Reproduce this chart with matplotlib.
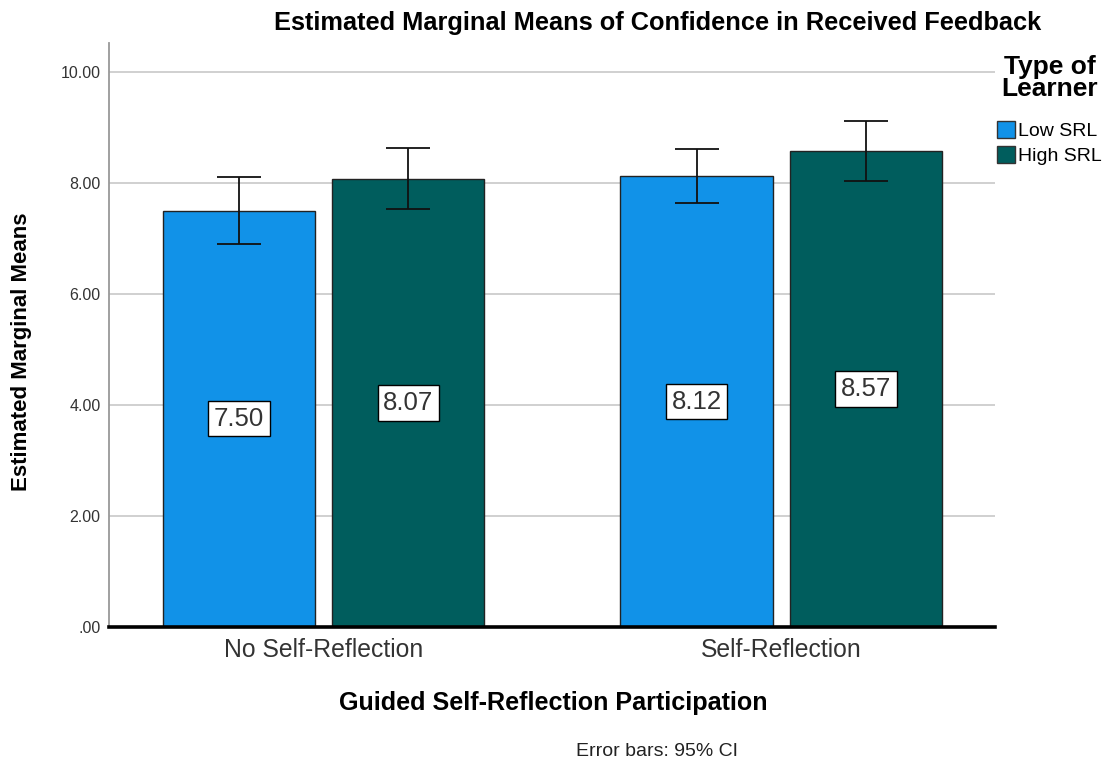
import matplotlib
matplotlib.use("Agg")
import matplotlib.pyplot as plt
from matplotlib.patches import Patch
import numpy as np

# Data
groups = ["No Self-Reflection", "Self-Reflection"]
learners = ["Low SRL", "High SRL"]
low_means = [7.50, 8.12]
high_means = [8.07, 8.57]
low_ci_lower = [6.90, 7.63]
low_ci_upper = [8.11, 8.61]
high_ci_lower = [7.53, 8.04]
high_ci_upper = [8.62, 9.11]
yticks = [0, 2, 4, 6, 8, 10]
ytick_labels = [".00", "2.00", "4.00", "6.00", "8.00", "10.00"]

colors = ["#1192e8", "#005d5d"]
FONT = ["Liberation Sans", "DejaVu Sans"]
plt.rcParams["font.family"] = FONT

W, H = 1116, 764
fig = plt.figure(figsize=(W / 100, H / 100), dpi=100)
ax = fig.add_axes([109 / W, (H - 627) / H, (995 - 109) / W, (627 - 43) / H])

x = np.arange(len(groups))
width = 0.333
offset = 0.185

series = [
    (low_means, low_ci_lower, low_ci_upper, colors[0], -offset),
    (high_means, high_ci_lower, high_ci_upper, colors[1], offset),
]
for means, lo, hi, col, off in series:
    means = np.array(means)
    yerr = np.vstack([means - np.array(lo), np.array(hi) - means])
    pos = x + off
    ax.bar(pos, means, width, color=col, edgecolor="#222222", linewidth=1.0, zorder=2)
    ax.errorbar(pos, means, yerr=yerr, fmt="none", ecolor="#111111",
                elinewidth=1.3, capsize=15.5, capthick=1.3, zorder=3)
    for px, m in zip(pos, means):
        ax.text(px, m / 2, f"{m:.2f}", ha="center", va="center", fontsize=18.5,
                color="#333333", zorder=4,
                bbox=dict(boxstyle="square,pad=0.22", facecolor="white",
                          edgecolor="black", linewidth=1.0))

ax.set_xlim(-0.469, 1.467)
ax.set_ylim(0, 10.52)
ax.set_yticks(yticks)
ax.set_yticklabels(ytick_labels, fontsize=11.5, color="#333333")
ax.set_xticks(x)
ax.set_xticklabels(groups, fontsize=17.8, color="#333333")
ax.tick_params(axis="y", length=0, pad=6)
ax.tick_params(axis="x", length=0, pad=8)
ax.yaxis.grid(True, color="#c8c8c8", linewidth=1.2, zorder=0)
ax.set_axisbelow(True)

for s in ["top", "right"]:
    ax.spines[s].set_visible(False)
ax.spines["left"].set_color("#999999")
ax.spines["left"].set_linewidth(1.3)
ax.spines["bottom"].set_color("black")
ax.spines["bottom"].set_linewidth(2.6)
ax.spines["bottom"].set_zorder(5)

fig.text(658 / W, 1 - 23 / H, "Estimated Marginal Means of Confidence in Received Feedback",
         ha="center", va="center", fontsize=18.3, fontweight="bold")
fig.text(22 / W, 1 - 352 / H, "Estimated Marginal Means", rotation=90,
         ha="center", va="center", fontsize=16, fontweight="bold")
fig.text(553 / W, 1 - 703 / H, "Guided Self-Reflection Participation",
         ha="center", va="center", fontsize=18.1, fontweight="bold")
fig.text(657 / W, 1 - 752 / H, "Error bars: 95% CI",
         ha="center", va="center", fontsize=14, color="#222222")

handles = [Patch(facecolor=c, edgecolor="#333333", linewidth=1.0) for c in colors]
leg = fig.legend(handles, learners, loc="upper left",
                 bbox_to_anchor=(997 / W, 1 - 55 / H), frameon=False,
                 fontsize=14, handlelength=0.95, handleheight=0.95,
                 handletextpad=0.15, labelspacing=0.3, borderpad=0, borderaxespad=0,
                 title="Type of\nLearner",
                 title_fontproperties={"weight": "bold", "size": 19, "family": FONT})
leg.get_title().set_multialignment("center")
leg.get_title().set_linespacing(0.92)
leg._legend_box.sep = 14

fig.savefig("out.png", dpi=100)
